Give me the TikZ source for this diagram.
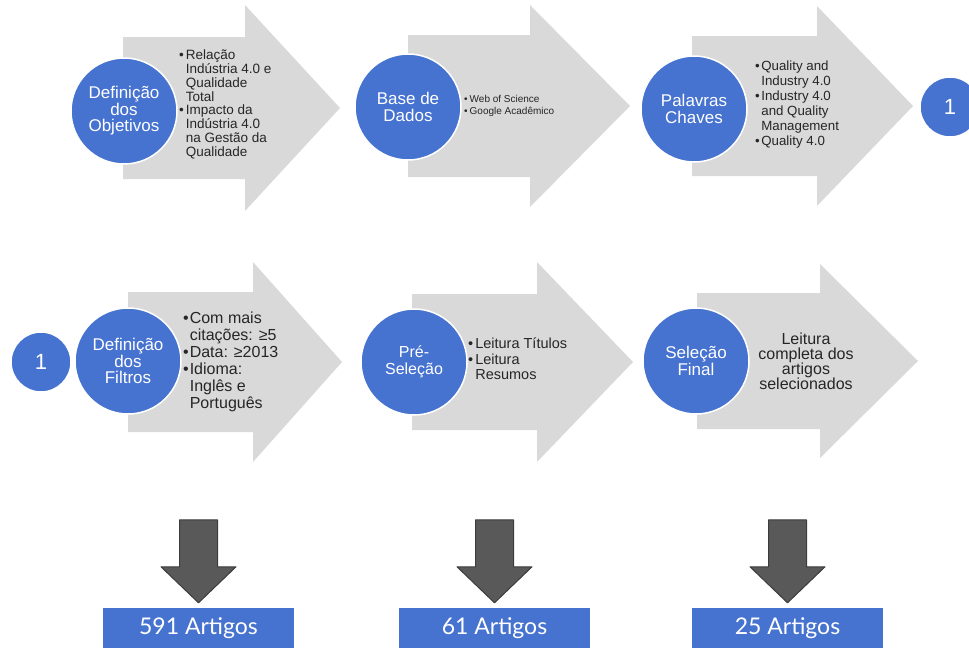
\documentclass[tikz,border=0pt]{standalone}
\usepackage{fontspec}
\setmainfont{Liberation Sans}
\newfontfamily\countfont{Lato}
\definecolor{stepblue}{RGB}{70,114,208}
\definecolor{arrowgray}{RGB}{217,217,217}
\definecolor{downgray}{RGB}{89,89,89}
\definecolor{downedge}{RGB}{60,60,60}
\definecolor{bodytext}{RGB}{38,38,38}

% big block arrow: body left, head start, tip, centre y, body half height, head half height
\newcommand{\stagearrow}[6]{%
  \fill[bigarrow] ({#1},{#4-#5}) -- ({#2},{#4-#5}) -- ({#2},{#4-#6}) -- ({#3},{#4})
    -- ({#2},{#4+#6}) -- ({#2},{#4+#5}) -- ({#1},{#4+#5}) -- cycle;}
% downward block arrow ending just above a result box
\newcommand{\resultarrow}[1]{%
  \draw[downarrow] ([shift={(0,-5)}]#1.north) -- ++(-37.5,-36) -- ++(18.5,0) -- ++(0,-47)
    -- ++(38,0) -- ++(0,47) -- ++(18.5,0) -- cycle;}
\newcommand{\bul}{\textbullet}

\tikzset{
  bigarrow/.style={fill=arrowgray},
  downarrow/.style={fill=downgray, draw=downedge, line width=1pt, line join=round},
  stage/.style={circle, fill=stepblue, draw=white, line width=1.5pt, text=white,
    align=center, inner sep=0pt, minimum size=106pt, font=\fontsize{17}{16.5}\selectfont},
  link/.style={circle, fill=stepblue, draw=white, line width=1.5pt, text=white,
    inner sep=0pt, minimum size=60pt, font=\fontsize{22}{24}\selectfont},
  count/.style={rectangle, fill=stepblue, text=white, minimum width=191pt,
    minimum height=40pt, inner sep=0pt, font=\countfont\fontsize{23}{25}\selectfont},
  notes/.style={anchor=west, text=bodytext, inner sep=0pt, align=left},
}

\begin{document}
\begin{tikzpicture}[x=1pt,y=-1pt]
\useasboundingbox (0,0) rectangle (969,648);

% ---- block arrows, first row
\stagearrow{123}{245}{340}{108}{71}{103}
\stagearrow{408}{530}{630}{106}{71}{101}
\stagearrow{692}{817}{913}{106}{70}{100}
% ---- block arrows, second row
\stagearrow{128}{253}{342}{362}{70}{100}
\stagearrow{412}{537}{633}{362}{68}{100}
\stagearrow{697}{820}{918}{361}{68}{97}

% ---- stage circles
\node[stage] (obj) at (124,111) {Definição\\dos\\Objetivos};
\node[stage] (base) at (408,107) {Base de\\Dados};
\node[stage] (kw) at (694,109) {Palavras\\Chaves};
\node[link] (cont1) at (950,107) {1};

\node[link] (cont2) at (41,362) {1};
\node[stage] (filt) at (128,361) {Definição\\dos\\Filtros};
\node[stage, font=\fontsize{16}{17}\selectfont] (pre) at (414,362) {Pré-\\Seleção};
\node[stage] (final) at (696,361) {Seleção\\Final};

% ---- notes inside the arrows
\node[notes, font=\fontsize{13.5}{13.3}\selectfont] (objnotes) at (179,105)
  {\begin{tabular}{@{}l@{\hspace{2pt}}l@{}}
   \bul & Relação\\ & Indústria 4.0 e\\ & Qualidade\\ & Total\\
   \bul & Impacto da\\ & Indústria 4.0\\ & na Gestão da\\ & Qualidade
   \end{tabular}};
\node[notes, font=\fontsize{10}{12.7}\selectfont] (basenotes) at (464,106)
  {\begin{tabular}{@{}l@{\hspace{2pt}}l@{}}
   \bul & Web of Science\\ \bul & Google Acadêmico
   \end{tabular}};
\node[notes, font=\fontsize{13.3}{15}\selectfont] (kwnotes) at (755,105)
  {\begin{tabular}{@{}l@{\hspace{1.5pt}}l@{}}
   \bul & Quality and\\ & Industry 4.0\\
   \bul & Industry 4.0\\ & and Quality\\ & Management\\
   \bul & Quality 4.0
   \end{tabular}};
\node[notes, font=\fontsize{16}{17}\selectfont] (filtnotes) at (183,363)
  {\begin{tabular}{@{}l@{\hspace{1pt}}l@{}}
   \bul & Com mais\\ & citações: ≥5\\
   \bul & Data: ≥2013\\
   \bul & Idioma:\\ & Inglês e\\ & Português
   \end{tabular}};
\node[notes, font=\fontsize{14.5}{15.5}\selectfont] (prenotes) at (468,361)
  {\begin{tabular}{@{}l@{\hspace{2pt}}l@{}}
   \bul & Leitura Títulos\\ \bul & Leitura\\ & Resumos
   \end{tabular}};
\node[text=bodytext, align=center, inner sep=0pt, font=\fontsize{16}{15}\selectfont]
  (finalnotes) at (806,361) {Leitura\\completa dos\\artigos\\selecionados};

% ---- result boxes and their arrows
\node[count] (res1) at (198.5,628) {591 Artigos};
\node[count] (res2) at (494.5,628) {61 Artigos};
\node[count] (res3) at (787.5,628) {25 Artigos};
\resultarrow{res1}
\resultarrow{res2}
\resultarrow{res3}
\end{tikzpicture}
\end{document}
